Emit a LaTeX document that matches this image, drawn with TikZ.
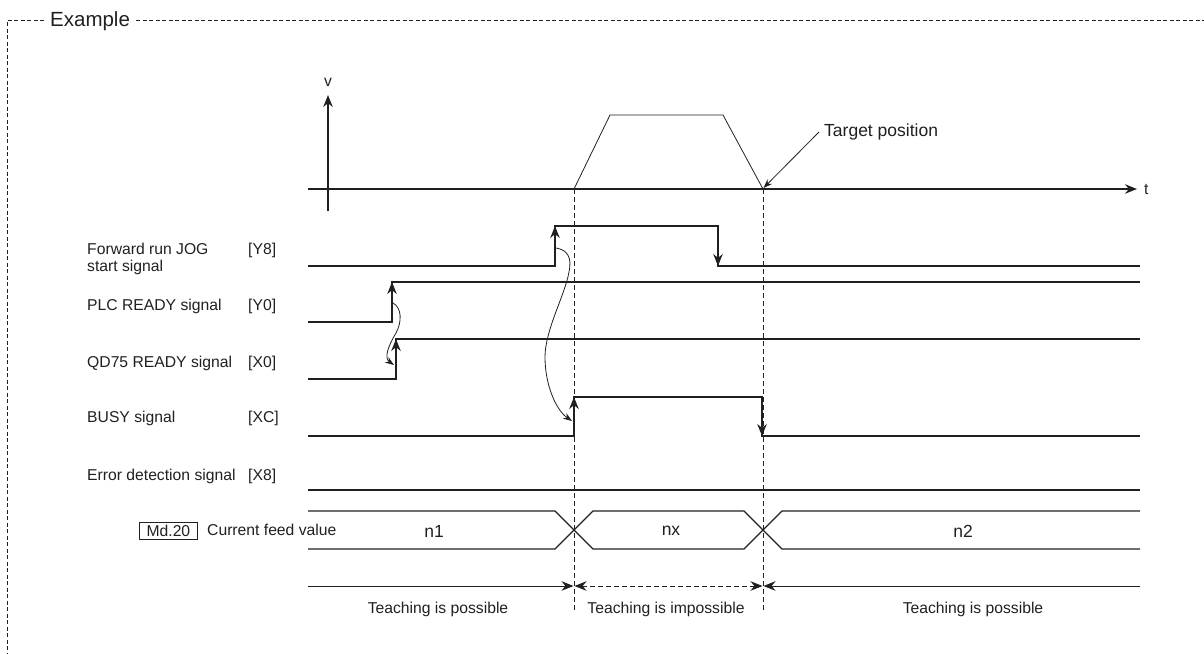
\documentclass[tikz,border=0pt]{standalone}
\usepackage{fontspec}
\setmainfont{Liberation Sans}
\usetikzlibrary{arrows.meta}
\definecolor{ink}{HTML}{231F20}
\begin{document}
\begin{tikzpicture}[x=1pt,y=-1pt,
  sig/.style={draw=ink, line width=1.3pt},
  fine/.style={draw=ink, line width=0.8pt},
  bigtip/.style={-{Stealth[length=12pt,width=9.5pt]}},
  smalltip/.style={-{Stealth[length=9pt,width=6.5pt]}},
  guide/.style={draw=ink, line width=0.8pt, dash pattern=on 5pt off 3pt},
  framedash/.style={draw=ink, line width=0.8pt, dash pattern=on 4pt off 2.5pt},
  lbl/.style={text=ink, inner sep=0pt, font=\fontsize{15.7}{17}\selectfont},
  val/.style={text=ink, inner sep=0pt, font=\fontsize{17.5}{19}\selectfont}]
\useasboundingbox (0,0) rectangle (1204,653);
% frame
\node[lbl, anchor=west, font=\fontsize{20.5}{22}\selectfont] (ex) at (50,21) {Example};
\draw[framedash] (44,20) -- (7,20) -- (7,653);
\draw[framedash] (136,20) -- (1204,20);
% velocity graph
\node[lbl] (v) at (328,82) {v};
\draw[sig,bigtip] (328,211) -- (328,95);
\draw[sig,bigtip] (308,189) -- (1137,189);
\node[lbl, anchor=west] (t) at (1144,189) {t};
\draw[fine] (574,189) -- (610,115) -- (723,115) -- (763,189);
\node[lbl, anchor=west, font=\fontsize{17.5}{19}\selectfont] (tp) at (824,132) {Target position};
\coordinate (tpend) at (763.5,188);
\draw[fine,smalltip] (tp.west) ++(-5,0) -- (tpend);
% guides
\draw[guide] (574,189) -- (574,611);
\draw[guide] (763,189) -- (763,611);
% labels
\node[lbl, anchor=west, align=left] (ly8) at (87,258.5) {Forward run JOG\\start signal};
\node[lbl, anchor=west] (ty8) at (248,250) {[Y8]};
\node[lbl, anchor=west] (ly0) at (87,306) {PLC READY signal};
\node[lbl, anchor=west] (ty0) at (248,306) {[Y0]};
\node[lbl, anchor=west] (lx0) at (87,363) {QD75 READY signal};
\node[lbl, anchor=west] (tx0) at (248,363) {[X0]};
\node[lbl, anchor=west] (lxc) at (87,418) {BUSY signal};
\node[lbl, anchor=west] (txc) at (248,418) {[XC]};
\node[lbl, anchor=west] (lx8) at (87,476) {Error detection signal};
\node[lbl, anchor=west] (tx8) at (248,476) {[X8]};
\node[lbl, draw=ink, line width=0.8pt, minimum width=58pt, minimum height=17pt, anchor=west] (md) at (139,531) {Md.20};
\node[lbl, anchor=west] (lcf) at (207,530) {Current feed value};
% Y8
\draw[sig] (308,266) -- (555,266) -- (555,226) -- (718,226) -- (718,266) -- (1140,266);
\draw[sig,bigtip] (555,262) -- (555,226);
\draw[sig,bigtip] (718,230) -- (718,266);
% Y0
\draw[sig] (308,322) -- (392,322) -- (392,282) -- (1140,282);
\draw[sig,bigtip] (392,318) -- (392,282);
% X0
\draw[sig] (308,379) -- (396,379) -- (396,339) -- (1140,339);
\draw[sig,bigtip] (396,375) -- (396,339);
% XC
\draw[sig] (308,436) -- (574,436) -- (574,397) -- (762,397) -- (762,436) -- (1140,436);
\draw[sig,bigtip] (574,432) -- (574,397);
\draw[sig,bigtip] (762,401) -- (762,436);
% X8
\draw[sig] (308,490) -- (1140,490);
% current feed value
\draw[fine, line width=1.1pt] (308,511) -- (555,511) -- (593,549) -- (744,549) -- (782,511) -- (1140,511);
\draw[fine, line width=1.1pt] (308,549) -- (555,549) -- (593,511) -- (744,511) -- (782,549) -- (1140,549);
\node[val] (n1) at (434,531) {n1};
\node[val] (nx) at (671,531) {nx};
\node[val] (n2) at (963,531) {n2};
% causal curves
\draw[fine,smalltip] (556,248) .. controls (568,250) and (572,258) .. (569,272)
  .. controls (565,295) and (545,330) .. (545,357)
  .. controls (545,385) and (556,410) .. (572,421);
\draw[fine,smalltip] (393,303) .. controls (402,308) and (402,322) .. (396,333)
  .. controls (388,346) and (384,358) .. (394,365);
% teaching ranges
\draw[fine,bigtip] (308,586) -- (573.5,586);
\draw[fine,dash pattern=on 5pt off 3pt,{Stealth[length=12pt,width=9.5pt]}-{Stealth[length=12pt,width=9.5pt]}] (574.5,586) -- (762.5,586);
\draw[fine,bigtip] (1140,586) -- (763.5,586);
\node[lbl] (tp1) at (438,609) {Teaching is possible};
\node[lbl] (ti) at (666,609) {Teaching is impossible};
\node[lbl] (tp2) at (973,609) {Teaching is possible};
\end{tikzpicture}
\end{document}
